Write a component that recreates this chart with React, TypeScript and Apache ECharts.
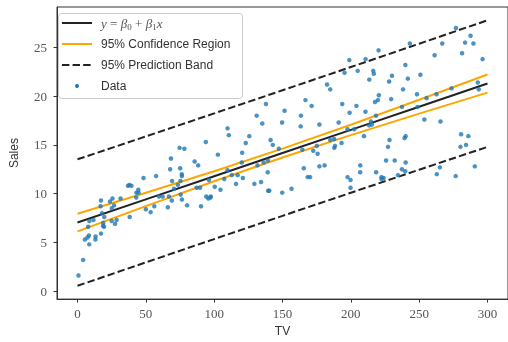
import React, { useEffect, useRef } from "react";
import * as echarts from "echarts";

const tv = [
  230.1, 44.5, 17.2, 151.5, 180.8, 8.7, 57.5, 120.2, 8.6, 199.8,
  66.1, 214.7, 23.8, 97.5, 204.1, 195.4, 67.8, 281.4, 69.2, 147.3,
  218.4, 237.4, 13.2, 228.3, 62.3, 262.9, 142.9, 240.1, 248.8, 70.6,
  292.9, 112.9, 97.2, 265.6, 95.7, 290.7, 266.9, 74.7, 43.1, 228,
  202.5, 177, 293.6, 206.9, 25.1, 175.1, 89.7, 239.9, 227.2, 66.9,
  199.8, 100.4, 216.4, 182.6, 262.7, 198.9, 7.3, 136.2, 210.8, 210.7,
  53.5, 261.3, 239.3, 102.7, 131.1, 69, 31.5, 139.3, 237.4, 216.8,
  199.1, 109.8, 26.8, 129.4, 213.4, 16.9, 27.5, 120.5, 5.4, 116,
  76.4, 239.8, 75.3, 68.4, 213.5, 193.2, 76.3, 110.7, 88.3, 109.8,
  134.3, 28.6, 217.7, 250.9, 107.4, 163.3, 197.6, 184.9, 289.7, 135.2,
  222.4, 296.4, 280.2, 187.9, 238.2, 137.9, 25, 90.4, 13.1, 255.4,
  225.8, 241.7, 175.7, 209.6, 78.2, 75.1, 139.2, 76.4, 125.7, 19.4,
  141.3, 18.8, 224, 123.1, 229.5, 87.2, 7.8, 80.2, 220.3, 59.6,
  0.7, 265.2, 8.4, 219.8, 36.9, 48.3, 25.6, 273.7, 43, 184.9,
  73.4, 193.7, 220.5, 104.6, 96.2, 140.3, 240.1, 243.2, 38, 44.7,
  280.7, 121, 197.6, 171.3, 187.8, 4.1, 93.9, 149.8, 11.7, 131.7,
  172.5, 85.7, 188.4, 163.5, 117.2, 234.5, 17.9, 206.8, 215.4, 284.3,
  50, 164.5, 19.6, 168.4, 222.4, 276.9, 248.4, 170.2, 276.7, 165.6,
  156.6, 218.5, 56.2, 287.6, 253.8, 205, 139.5, 191.1, 286, 18.7,
  39.5, 75.5, 17.2, 166.8, 149.7, 38.2, 94.2, 177, 283.6, 232.1,
];

const sales = [
  22.1, 10.4, 9.3, 18.5, 12.9, 7.2, 11.8, 13.2, 4.8, 10.6,
  8.6, 17.4, 9.2, 9.7, 19, 22.4, 12.5, 24.4, 11.3, 14.6,
  18, 12.5, 5.6, 15.5, 9.7, 12, 15, 15.9, 18.9, 10.5,
  21.4, 11.9, 9.6, 17.4, 9.5, 12.8, 25.4, 14.7, 10.1, 21.5,
  16.6, 17.1, 20.7, 12.9, 8.5, 14.9, 10.6, 23.2, 14.8, 9.7,
  11.4, 10.7, 22.6, 21.2, 20.2, 23.7, 5.5, 13.2, 23.8, 18.4,
  8.1, 24.2, 15.7, 14, 18, 9.3, 9.5, 13.4, 18.9, 22.3,
  18.3, 12.4, 8.8, 11, 17, 8.7, 6.9, 14.2, 5.3, 11,
  11.8, 12.3, 11.3, 13.6, 21.7, 15.2, 12, 16, 12.9, 16.7,
  11.2, 7.3, 19.4, 22.2, 11.5, 16.9, 11.7, 15.5, 25.4, 17.2,
  11.7, 23.8, 14.8, 14.7, 20.7, 19.2, 7.2, 8.7, 5.3, 19.8,
  13.4, 21.8, 14.1, 15.9, 14.6, 12.6, 12.2, 9.4, 15.9, 6.6,
  15.5, 7, 11.6, 15.2, 19.7, 10.6, 6.6, 8.8, 24.7, 9.7,
  1.6, 12.7, 5.7, 19.6, 10.8, 11.6, 9.5, 20.8, 9.6, 20.7,
  10.9, 19.2, 20.1, 10.4, 11.4, 10.3, 13.2, 25.4, 10.9, 10.1,
  16.1, 11.6, 16.6, 19, 15.6, 3.2, 15.3, 10.1, 7.3, 12.9,
  14.4, 13.3, 14.9, 18, 11.9, 11.9, 8, 12.2, 17.1, 15,
  8.4, 14.5, 7.6, 11.7, 11.5, 27, 20.2, 11.7, 11.8, 12.6,
  10.5, 12.2, 8.7, 26.2, 17.6, 22.6, 10.3, 17.3, 15.9, 6.7,
  10.8, 9.9, 5.9, 19.6, 17.3, 7.6, 9.7, 12.8, 25.5, 13.4,
];

// band lines read at these TV positions
const bandX = [0, 50, 100, 150, 200, 250, 300];
const fitY = [7.033, 9.41, 11.786, 14.163, 16.54, 18.917, 21.294];
const ciLow = [6.13, 8.723, 11.268, 13.709, 16.006, 18.206, 20.364];
const ciHigh = [7.935, 10.096, 12.305, 14.618, 17.074, 19.628, 22.224];
const piLow = [0.543, 2.947, 5.339, 7.721, 10.092, 12.452, 14.8];
const piHigh = [13.522, 15.872, 18.233, 20.606, 22.988, 25.382, 27.787];

const xTicks = [0, 50, 100, 150, 200, 250, 300];
const yTicks = [0, 5, 10, 15, 20, 25];

const legendLabels = ["95% Confidence Region", "95% Prediction Band", "Data"];

const pairs = (xs: number[], ys: number[]) => xs.map((x, i) => [x, ys[i]]);

export default function App() {
  const ref = useRef<HTMLDivElement>(null);
  useEffect(() => {
    if (!ref.current) return;
    const chart = echarts.init(ref.current, null, { renderer: "svg" });
    const serif = "Liberation Serif";
    const sans = "Liberation Sans";
    const blue = "#1f77b4";
    const orange = "#ffa500";
    const dark = "#222222";
    const dash = [7.4, 3.2];

    const lx0 = 62, lx1 = 92, tx = 101;
    const rows = [23, 44, 65, 86];

    const line = (name: string, ys: number[], color: string, type: any, z: number) => ({
      name,
      type: "line",
      data: pairs(bandX, ys),
      showSymbol: false,
      symbol: "none",
      lineStyle: { color, width: 2, type },
      z,
      silent: true,
    });

    chart.setOption({
      animation: false,
      grid: { left: 51, right: -3, top: 7, bottom: 38, show: true, borderColor: "#333", borderWidth: 1, backgroundColor: "transparent" },
      xAxis: {
        type: "value",
        min: -15,
        max: 315,
        name: "TV",
        nameLocation: "middle",
        nameGap: 25,
        nameTextStyle: { fontFamily: sans, fontSize: 12, color: "#333" },
        axisLine: { show: true, onZero: false, lineStyle: { color: "#333" } },
        axisTick: { show: true, length: 3.5, lineStyle: { color: "#333" }, customValues: xTicks },
        axisLabel: { fontFamily: serif, fontSize: 13, color: "#555", margin: 8, customValues: xTicks },
        splitLine: { show: false },
      },
      yAxis: {
        type: "value",
        min: -0.82,
        max: 29.15,
        name: "Sales",
        nameLocation: "middle",
        nameGap: 37,
        nameRotate: 90,
        nameTextStyle: { fontFamily: sans, fontSize: 12, color: "#333" },
        axisLine: { show: true, onZero: false, lineStyle: { color: "#333" } },
        axisTick: { show: true, length: 3.5, lineStyle: { color: "#333" }, customValues: yTicks },
        axisLabel: { fontFamily: serif, fontSize: 13, color: "#555", margin: 10, customValues: yTicks },
        splitLine: { show: false },
      },
      series: [
        line("fit", fitY, dark, "solid", 3),
        line("ciHigh", ciHigh, orange, "solid", 2),
        line("ciLow", ciLow, orange, "solid", 2),
        line("piHigh", piHigh, dark, dash, 2),
        line("piLow", piLow, dark, dash, 2),
        {
          name: "Data",
          type: "scatter",
          data: pairs(tv, sales),
          symbolSize: 4.5,
          itemStyle: { color: blue },
          z: 4,
          silent: true,
        },
      ],
      graphic: [
        {
          type: "rect",
          shape: { x: 58.5, y: 13.5, width: 184, height: 85, r: 3 },
          style: { fill: "rgba(255,255,255,0.85)", stroke: "#cccccc", lineWidth: 1 },
          z: 100,
        },
        { type: "line", shape: { x1: lx0, y1: rows[0], x2: lx1, y2: rows[0] }, style: { stroke: dark, lineWidth: 2 }, z: 101 },
        { type: "line", shape: { x1: lx0, y1: rows[1], x2: lx1, y2: rows[1] }, style: { stroke: orange, lineWidth: 2 }, z: 101 },
        { type: "line", shape: { x1: lx0, y1: rows[2], x2: lx1, y2: rows[2] }, style: { stroke: dark, lineWidth: 2, lineDash: dash }, z: 101 },
        { type: "circle", shape: { cx: 77, cy: rows[3], r: 2 }, style: { fill: blue }, z: 101 },
        {
          type: "text",
          x: tx,
          y: rows[0],
          z: 101,
          style: {
            text: "{i|y} {n|=} {i|β}{s|0} {n|+} {i|β}{s|1}{i|x}",
            verticalAlign: "middle",
            fill: "#555",
            rich: {
              i: { fontFamily: serif, fontStyle: "italic", fontSize: 13, lineHeight: 16, verticalAlign: "middle", fill: "#555" },
              n: { fontFamily: serif, fontSize: 13, lineHeight: 16, verticalAlign: "middle", fill: "#555" },
              s: { fontFamily: serif, fontSize: 9, lineHeight: 16, verticalAlign: "bottom", fill: "#555" },
            },
          },
        },
        ...legendLabels.map((t, k) => ({
          type: "text",
          x: tx,
          y: rows[k + 1],
          z: 101,
          style: { text: t, fontFamily: sans, fontSize: 12, fill: "#333", verticalAlign: "middle" },
        })),
      ],
    });
    return () => chart.dispose();
  }, []);
  return <div ref={ref} style={{ width: 508, height: 342, position: "fixed", left: 0, top: 0 }} />;
}
